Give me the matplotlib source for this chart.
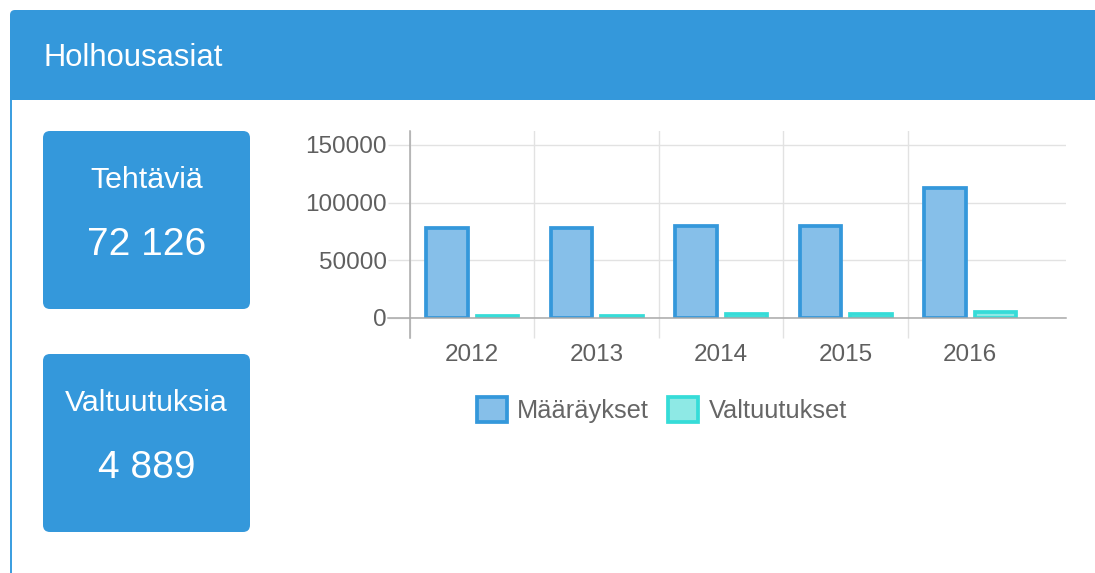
import matplotlib
matplotlib.use("Agg")
import matplotlib.pyplot as plt
from matplotlib.patches import FancyBboxPatch, Rectangle
from matplotlib.transforms import Affine2D
import numpy as np

plt.rcParams['font.family'] = ['Liberation Sans', 'DejaVu Sans']

# ---- data ----
years = ['2012', '2013', '2014', '2015', '2016']
maaraykset = [77800, 77800, 79800, 79800, 112400]
valtuutukset = [2000, 2000, 3700, 3700, 5000]
series_labels = ['Määräykset', 'Valtuutukset']
y_ticks = [0, 50000, 100000, 150000]
y_tick_labels = ['0', '50000', '100000', '150000']
panel_title = 'Holhousasiat'
card_titles = ['Tehtäviä', 'Valtuutuksia']
card_values = ['72 126', '4 889']

W, H, DPI = 1095, 573, 100
BLUE = '#3498db'
fig = plt.figure(figsize=(W / DPI, H / DPI), dpi=DPI)
fig.patch.set_facecolor('white')

# pixel transform (y downward)
T = Affine2D().scale(1 / DPI, -1 / DPI).translate(0, H / DPI) + fig.dpi_scale_trans

def fx(x):
    return x / W

def fy(y):
    return 1 - y / H

# header band + panel
fig.add_artist(FancyBboxPatch((10, 10), 1100, 130, boxstyle='round,pad=0,rounding_size=5',
                              transform=T, fc=BLUE, ec='none', zorder=-5))
fig.add_artist(Rectangle((12, 100), 1100, 480, transform=T, fc='white', ec='none', zorder=-4))
fig.add_artist(Rectangle((10, 100), 2, 480, transform=T, fc='#3d9fe0', ec='none', zorder=-4))
fig.text(fx(44), fy(66), panel_title, color='white', fontsize=22.3, ha='left', va='baseline')

# cards
card_tops = [131, 354]
for top, title, val in zip(card_tops, card_titles, card_values):
    fig.add_artist(FancyBboxPatch((43, top), 207, 178, boxstyle='round,pad=0,rounding_size=7',
                                  transform=T, fc=BLUE, ec='none', zorder=-3))
    fig.text(fx(146.5), fy(top + 57), title, color='white', fontsize=21.8, ha='center', va='baseline')
    fig.text(fx(146.5), fy(top + 124), val, color='white', fontsize=28, ha='center', va='baseline')

# chart axes
ax = fig.add_axes([fx(410), fy(318), (1066 - 410) / W, (318 - 131) / H])
ax.set_facecolor('none')
x = np.arange(len(years))
bw = 0.335
off = 0.203
b1 = ax.bar(x - off, maaraykset, width=bw, color='#86bfe9', edgecolor=BLUE, linewidth=2.7,
            zorder=2, label=series_labels[0])
b2 = ax.bar(x + off, valtuutukset, width=bw, color='#8ee9e5', edgecolor='#36dcd8', linewidth=2.7,
            zorder=2, label=series_labels[1])

ax.set_xlim(-0.5, 4.77)
ax.set_ylim(0, 162100)
for s in ax.spines.values():
    s.set_visible(False)

GRID = '#e2e2e2'
AXC = '#a9a9a9'
TXT = '#5f5f5f'
ax.set_xticks(x)
ax.set_xticklabels(years)
ax.set_xticks([-0.5, 0.5, 1.5, 2.5, 3.5], minor=True)
ax.tick_params(axis='x', which='major', length=0, pad=19, labelsize=17.5, labelcolor=TXT)
ax.tick_params(axis='x', which='minor', length=14.4, color=GRID, width=1)
ax.grid(which='minor', axis='x', color=GRID, linewidth=1, zorder=0)

ax.set_yticks(y_ticks)
ax.set_yticklabels(y_tick_labels)
ax.tick_params(axis='y', length=15.8, color=GRID, width=1, pad=1, labelsize=17.5, labelcolor=TXT)
ax.grid(which='major', axis='y', color=GRID, linewidth=1, zorder=0)
ax.set_axisbelow(True)

# axis lines
ax.plot([-0.5, -0.5], [-0.107, 1], transform=ax.get_xaxis_transform(), color=AXC,
        linewidth=1.1, clip_on=False, zorder=3)
ax.plot([-0.0335, 1], [0, 0], transform=ax.get_yaxis_transform(), color=AXC,
        linewidth=1.1, clip_on=False, zorder=3)

fig.legend(handles=[b1, b2], labels=series_labels, loc='center', bbox_to_anchor=(fx(662), fy(410)),
           ncol=2, frameon=False, fontsize=18.3, handlelength=1.18, handleheight=1.15,
           handletextpad=0.42, columnspacing=0.75, labelcolor='#666666')

fig.savefig('out.png', dpi=DPI, facecolor='white')
